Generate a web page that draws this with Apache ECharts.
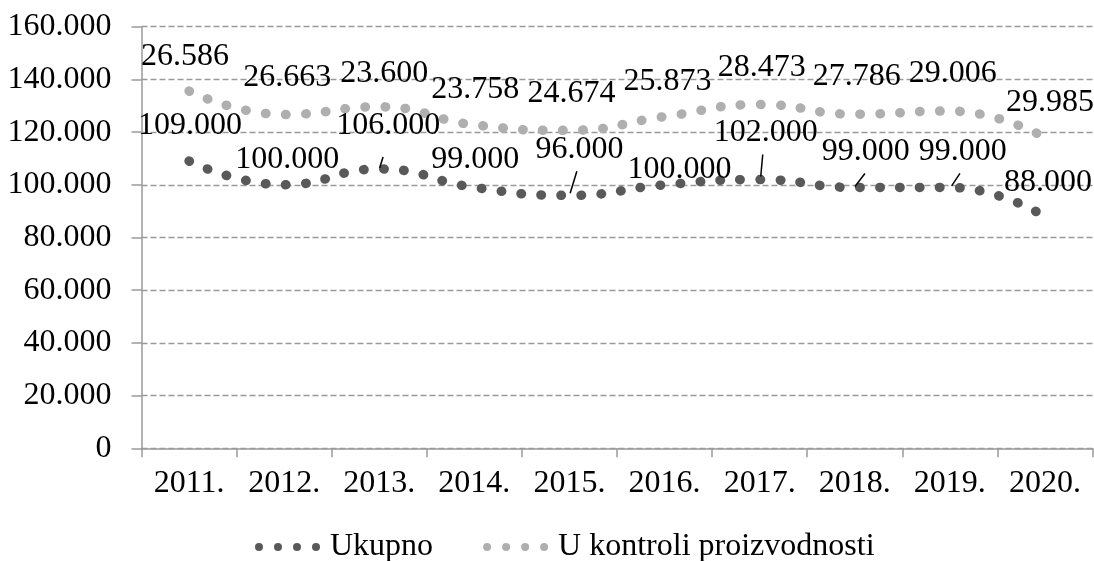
<!DOCTYPE html>
<html><head><meta charset="utf-8">
<script src="https://cdn.jsdelivr.net/npm/echarts@6/dist/echarts.min.js"></script>
<style>html,body{margin:0;padding:0;background:#fff;}#chart{width:1094px;height:561px;}</style>
</head><body><div id="chart"></div>
<script>
// ---- data ----
const categories = ['2011.', '2012.', '2013.', '2014.', '2015.', '2016.', '2017.', '2018.', '2019.', '2020.'];
const ukupno = [109000, 100000, 106000, 99000, 96000, 100000, 102000, 99000, 99000, 88000];
const uKontroli = [26586, 26663, 23600, 23758, 24674, 25873, 28473, 27786, 29006, 29985];
const seriesNames = ['Ukupno', 'U kontroli proizvodnosti'];
const yMin = 0, yMax = 160000, yStep = 20000;

// ---- layout (label offsets relative to each point, in px) ----
const ukupnoLabelOffsets = [[1, -35], [3, -25], [9, -43], [1, -28], [10, -46], [15, -15], [6, -47], [11, -36], [13, -36], [3, -34]];
const kontroliLabelOffsets = [[-4, -34], [3, -37], [5, -33], [1, -35], [2, -37], [3, -35], [2, -37], [2, -38], [3, -37], [5, -35]];
const leaderLines = [
  { i: 2, from: [0.4, -1], to: [3.8, -12] },
  { i: 4, from: [0.7, -2], to: [7.4, -24] },
  { i: 6, from: [1.1, -3], to: [3.1, -25] },
  { i: 7, from: [0.2, -1], to: [10.2, -14] },
  { i: 8, from: [1.8, -1.5], to: [10.1, -14] }
];

const FONT = 'Liberation Serif';
const FS = 32;
const fmt = v => String(v).replace(/\B(?=(\d{3})+(?!\d))/g, '.');
const DARK = '#595959', LIGHT = '#afafaf';

const chart = echarts.init(document.getElementById('chart'), null, { renderer: 'canvas' });

function lineSeries(name, values, offsets, color, z) {
  return {
    name, type: 'line', stack: 'total', smooth: true,
    symbol: 'circle', symbolSize: 0, showSymbol: true,
    data: values.map((v, i) => ({ value: v, label: { offset: offsets[i] } })),
    lineStyle: { color, width: 9.5, type: [0.5, 19.5], cap: 'round' },
    itemStyle: { color },
    label: { show: true, position: 'inside', formatter: p => fmt(p.value), fontFamily: FONT, fontSize: FS, color: '#000' },
    emphasis: { disabled: true }, silent: true, z
  };
}

const option = {
  animation: false,
  backgroundColor: '#fff',
  grid: { left: 141.5, right: 1.5, top: 26.7, bottom: 112.7, containLabel: false, outerBoundsMode: 'none' },
  xAxis: {
    type: 'category', data: categories, boundaryGap: true,
    axisLine: { lineStyle: { color: '#9a9a9a', width: 1.5 } },
    axisTick: { show: true, alignWithLabel: false, interval: 0, length: 9, lineStyle: { color: '#9a9a9a', width: 1.5 } },
    axisLabel: { interval: 0, margin: 19, fontFamily: FONT, fontSize: FS, color: '#000' },
    splitLine: { show: false }
  },
  yAxis: {
    type: 'value', min: yMin, max: yMax, interval: yStep,
    axisLine: { show: true, lineStyle: { color: '#9a9a9a', width: 1.5 } },
    axisTick: { show: true, length: 10, lineStyle: { color: '#9a9a9a', width: 1.5 } },
    axisLabel: { margin: 30, formatter: v => fmt(v), fontFamily: FONT, fontSize: FS, color: '#000' },
    splitLine: { show: true, lineStyle: { color: '#9a9a9a', width: 1.3, type: [6, 3] } }
  },
  legend: {
    data: seriesNames, left: 250, top: 526, itemWidth: 65, itemHeight: 8, itemGap: 50,
    icon: 'path://M0,4a4,4 0 1,0 8,0a4,4 0 1,0 -8,0M19,4a4,4 0 1,0 8,0a4,4 0 1,0 -8,0M38,4a4,4 0 1,0 8,0a4,4 0 1,0 -8,0M57,4a4,4 0 1,0 8,0a4,4 0 1,0 -8,0',
    itemStyle: { borderWidth: 0 },
    textStyle: { fontFamily: FONT, fontSize: FS, color: '#000', padding: [0, 0, 0, 5] },
    selectedMode: false
  },
  series: [
    lineSeries(seriesNames[0], ukupno, ukupnoLabelOffsets, DARK, 3),
    lineSeries(seriesNames[1], uKontroli, kontroliLabelOffsets, LIGHT, 2),
    {
      type: 'custom', silent: true, z: 4,
      data: leaderLines.map(L => [L.i, ukupno[L.i]]),
      encode: { x: 0, y: 1 },
      renderItem: (params, api) => {
        const p = api.coord([api.value(0), api.value(1)]);
        const L = leaderLines[params.dataIndex];
        return {
          type: 'line',
          shape: { x1: p[0] + L.from[0], y1: p[1] + L.from[1], x2: p[0] + L.to[0], y2: p[1] + L.to[1] },
          style: { stroke: '#000', lineWidth: 1.5 }
        };
      }
    }
  ]
};
chart.setOption(option);
</script>
</body></html>
